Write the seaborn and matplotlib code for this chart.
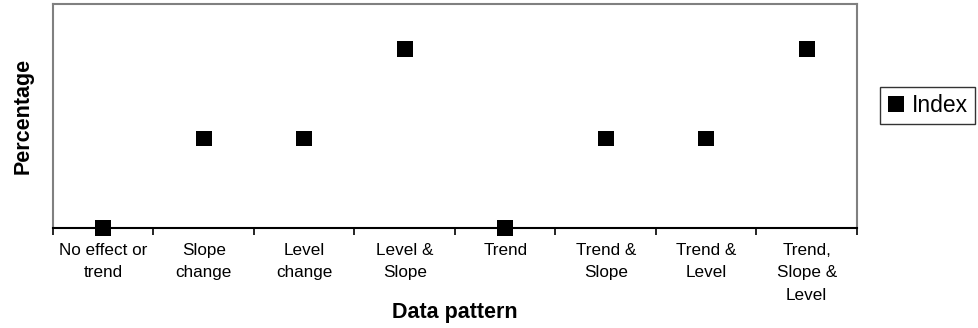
import matplotlib
matplotlib.use("Agg")
import matplotlib.pyplot as plt
from matplotlib.ticker import FixedLocator, NullFormatter
import seaborn as sns
import pandas as pd

# Data patterns and the index value observed for each
patterns = [
    "No effect or\ntrend",
    "Slope\nchange",
    "Level\nchange",
    "Level &\nSlope",
    "Trend",
    "Trend &\nSlope",
    "Trend &\nLevel",
    "Trend,\nSlope &\nLevel",
]
index_values = [0, 1, 1, 2, 0, 1, 1, 2]

df = pd.DataFrame({"pattern": patterns, "value": index_values, "series": "Index"})

sns.set_theme(style="white")
plt.rcParams["font.family"] = ["Liberation Sans", "DejaVu Sans"]

W, H = 979, 328
AX_L, AX_R, AX_T, AX_B = 53, 857, 4, 228
fig = plt.figure(figsize=(W / 100, H / 100), dpi=100)
ax = fig.add_axes([AX_L / W, (H - AX_B) / H, (AX_R - AX_L) / W, (AX_B - AX_T) / H])

sns.scatterplot(
    data=df, x="pattern", y="value", hue="series", palette={"Index": "black"},
    marker="s", s=125, edgecolor="black", linewidth=0, ax=ax, zorder=5,
    clip_on=False,
)

n = len(patterns)
ax.set_xlim(-0.5, n - 0.5)
ax.set_ylim(0, 2.5)
ax.set_yticks([])

# Category labels centred between boundary ticks
ax.xaxis.set_major_locator(FixedLocator([i - 0.5 for i in range(n + 1)]))
ax.xaxis.set_major_formatter(NullFormatter())
ax.xaxis.set_minor_locator(FixedLocator(list(range(n))))
ax.set_xticklabels(patterns, minor=True, fontsize=12.3, linespacing=1.6)
ax.tick_params(axis="x", which="major", direction="out", length=5, width=1.2,
               color="black", bottom=True)
ax.tick_params(axis="x", which="minor", length=0, pad=11, labelcolor="black")

for side in ["left", "top", "right"]:
    ax.spines[side].set_color("#808080")
    ax.spines[side].set_linewidth(1.5)
ax.spines["bottom"].set_color("black")
ax.spines["bottom"].set_linewidth(1.5)

ax.set_xlabel("Data pattern", fontsize=15.5, fontweight="bold", color="black")
ax.xaxis.set_label_coords(0.5, -(302 - AX_B) / (AX_B - AX_T))
ax.set_ylabel("Percentage", fontsize=15.5, fontweight="bold", color="black")
ax.yaxis.set_label_coords(-(AX_L - 34) / (AX_R - AX_L), 0.5)

leg = ax.legend(
    loc="upper left", bbox_to_anchor=(880 / W, 1 - 87 / H), bbox_transform=fig.transFigure,
    frameon=True, fancybox=False, fontsize=16.5, handletextpad=0.3, borderpad=0.3,
    handlelength=0.8, markerscale=1.05, borderaxespad=0,
)
leg.get_frame().set_edgecolor("black")
leg.get_frame().set_linewidth(1)
for t in leg.get_texts():
    t.set_color("black")

fig.savefig("out.png", dpi=100, facecolor="white")
